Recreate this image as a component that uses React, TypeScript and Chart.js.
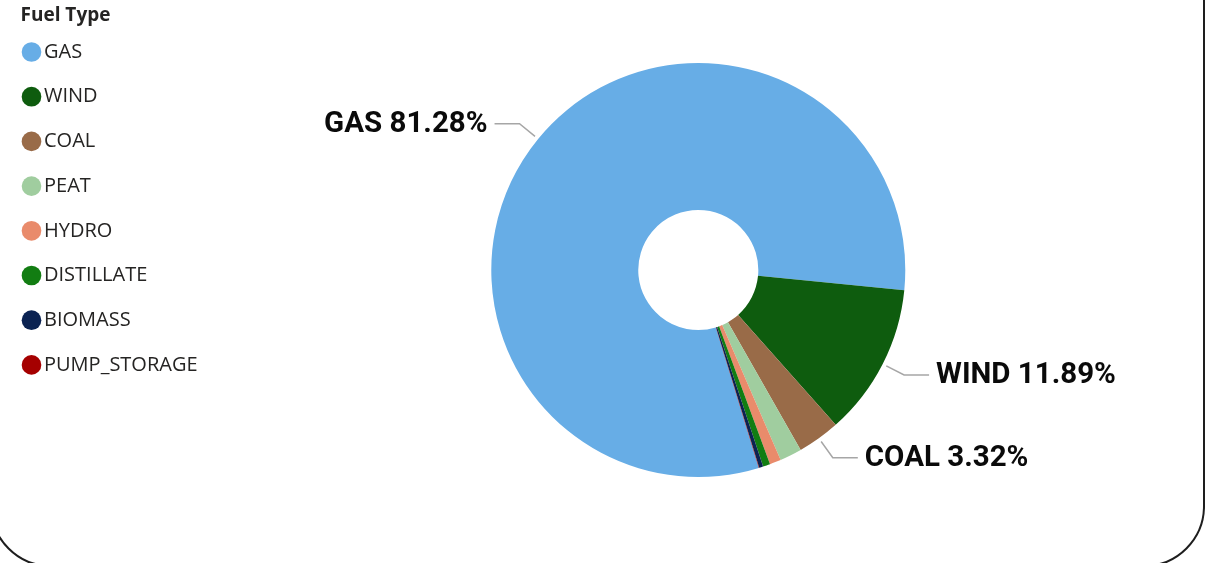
import React, { useEffect, useRef } from "react";
import { Chart, registerables } from "chart.js";

Chart.register(...registerables);

const categories = ["GAS", "WIND", "COAL", "PEAT", "HYDRO", "DISTILLATE", "BIOMASS", "PUMP_STORAGE"];
const shares = [81.28, 11.89, 3.32, 1.72, 0.88, 0.56, 0.32, 0.03];
const colors = ["#67ADE6", "#0E5C0E", "#996B48", "#A0CD9F", "#E98B6B", "#127D12", "#0B2352", "#A50000"];
const legendTitle = "Fuel Type";
const labelThreshold = 3;

const sliceLabels = {
  id: "sliceLabels",
  afterDatasetsDraw(chart: any) {
    const ctx = chart.ctx;
    const meta = chart.getDatasetMeta(0);
    const values: number[] = chart.data.datasets[0].data;
    const total = values.reduce((a, b) => a + b, 0);
    ctx.save();
    meta.data.forEach((arc: any, i: number) => {
      const pct = (values[i] / total) * 100;
      if (pct < labelThreshold) return;
      const p = arc.getProps(["x", "y", "startAngle", "endAngle", "outerRadius"], true);
      const mid = (p.startAngle + p.endAngle) / 2;
      const cos = Math.cos(mid);
      const sin = Math.sin(mid);
      const r0 = p.outerRadius + 4;
      const r1 = p.outerRadius + 24;
      const x0 = p.x + cos * r0;
      const y0 = p.y + sin * r0;
      const x1 = p.x + cos * r1;
      const y1 = p.y + sin * r1;
      const dir = cos >= 0 ? 1 : -1;
      const x2 = x1 + dir * 25;
      ctx.strokeStyle = "#A6A6A6";
      ctx.lineWidth = 1.5;
      ctx.beginPath();
      ctx.moveTo(x0, y0);
      ctx.lineTo(x1, y1);
      ctx.lineTo(x2, y1);
      ctx.stroke();
      ctx.font = "bold 29.5px Roboto";
      ctx.fillStyle = "#0a0a0a";
      ctx.textBaseline = "middle";
      ctx.textAlign = dir > 0 ? "left" : "right";
      ctx.fillText(`${chart.data.labels[i]} ${pct.toFixed(2)}%`, x2 + dir * 7, y1 + 0.5);
    });
    ctx.restore();
  },
};

export default function App() {
  const canvasRef = useRef<HTMLCanvasElement | null>(null);

  useEffect(() => {
    if (!canvasRef.current) return;
    const chart = new Chart(canvasRef.current, {
      type: "doughnut",
      data: {
        labels: categories,
        datasets: [
          {
            data: shares,
            backgroundColor: colors,
            borderWidth: 0,
            hoverOffset: 0,
          },
        ],
      },
      options: {
        responsive: true,
        maintainAspectRatio: false,
        animation: false,
        rotation: 163,
        radius: 207,
        cutout: "29%",
        layout: { padding: { left: 20.5, top: 0, right: 29, bottom: 23 } },
        plugins: {
          tooltip: { enabled: false },
          legend: {
            position: "left",
            align: "start",
            title: {
              display: true,
              text: legendTitle,
              position: "start",
              color: "#252423",
              font: { family: "'Open Sans'", size: 19, weight: "bold" },
              padding: { top: 6.5, bottom: 4.2, left: 0, right: 0 },
            },
            labels: {
              usePointStyle: true,
              pointStyle: "circle",
              boxWidth: 5,
              boxHeight: 13.9,
              padding: 8.5,
              color: "#252423",
              font: { family: "'Open Sans'", size: 20, lineHeight: "36.2px" },
              generateLabels: (c: any) => {
                const base = (Chart as any).overrides.doughnut.plugins.legend.labels.generateLabels(c);
                return base.map((item: any) => ({ ...item, text: [item.text], lineWidth: 0, pointStyle: "circle" }));
              },
            },
          },
        },
      } as any,
      plugins: [sliceLabels],
    });
    return () => chart.destroy();
  }, []);

  return (
    <>
      <div
        style={{
          position: "fixed",
          left: -9.75,
          top: -60,
          width: 1214.75,
          height: 627,
          boxSizing: "border-box",
          border: "2px solid #1e1e1e",
          borderRadius: 61,
        }}
      />
      <div style={{ position: "fixed", left: 0, top: 0, width: 1218, height: 563 }}>
        <canvas ref={canvasRef} />
      </div>
    </>
  );
}
